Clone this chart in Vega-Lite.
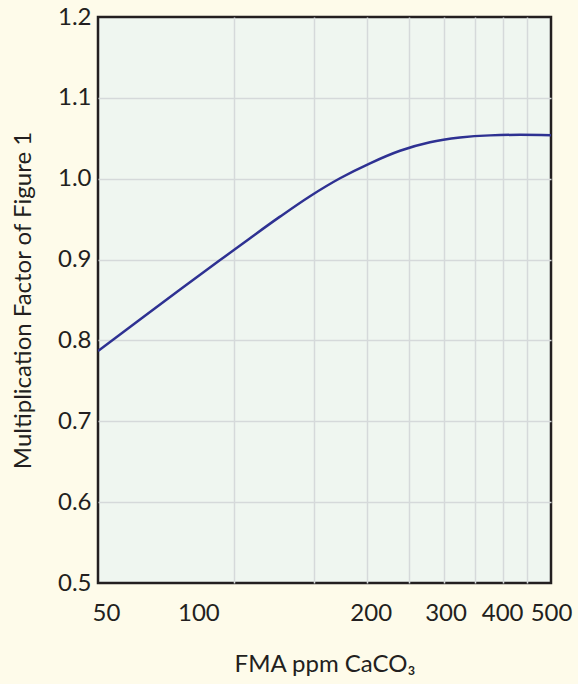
{
  "$schema": "https://vega.github.io/schema/vega-lite/v6.json",
  "width": 453,
  "height": 566,
  "autosize": {"type": "none"},
  "padding": {"left": 98, "top": 17, "right": 27, "bottom": 101},
  "background": "#fefbea",
  "view": {"fill": "#eff6f0", "stroke": "#231f20", "strokeWidth": 2.5},
  "data": {
    "values": [
      {"fma": 50, "factor": 0.787},
      {"fma": 61.9, "factor": 0.826},
      {"fma": 75.9, "factor": 0.863},
      {"fma": 93.0, "factor": 0.8994},
      {"fma": 108.3, "factor": 0.9265},
      {"fma": 126.1, "factor": 0.9531},
      {"fma": 146.9, "factor": 0.9784},
      {"fma": 171.1, "factor": 1.0006},
      {"fma": 199.3, "factor": 1.0191},
      {"fma": 232.1, "factor": 1.0346},
      {"fma": 270.3, "factor": 1.0451},
      {"fma": 314.8, "factor": 1.0509},
      {"fma": 366.7, "factor": 1.0536},
      {"fma": 427.1, "factor": 1.0543},
      {"fma": 500, "factor": 1.0537}
    ]
  },
  "mark": {"type": "line", "color": "#2e3192", "strokeWidth": 2.5, "interpolate": "monotone", "clip": true},
  "encoding": {
    "x": {
      "field": "fma",
      "type": "quantitative",
      "scale": {"type": "log", "domain": [50, 500], "nice": false},
      "axis": {
        "title": "FMA ppm CaCO₃",
        "values": [50, 100, 150, 196, 200, 243, 290, 300, 339, 392, 400, 443, 500],
        "labelExpr": "indexof([50,100,200,300,400,500], datum.value) >= 0 ? format(datum.value, 'd') : ''",
        "labelOverlap": false,
        "labelFlush": false,
        "labelFontSize": 24,
        "labelColor": "#231f20",
        "labelPadding": 18,
        "labelOffset": {
          "condition": [
            {"test": "datum.value == 50", "value": 8},
            {"test": "datum.value == 100", "value": -36},
            {"test": "datum.value == 300 || datum.value == 400", "value": -5}
          ],
          "value": 0
        },
        "ticks": false,
        "tickSize": 0,
        "domain": false,
        "grid": true,
        "gridColor": "#d5d9da",
        "gridWidth": 1.5,
        "gridOpacity": {
          "condition": {"test": "indexof([100,150,196,243,290,339,392,443], datum.value) >= 0", "value": 1},
          "value": 0
        },
        "titleFontSize": 24,
        "titleFontWeight": "normal",
        "titleColor": "#231f20",
        "titleBaseline": "alphabetic",
        "titleY": 88
      }
    },
    "y": {
      "field": "factor",
      "type": "quantitative",
      "scale": {"domain": [0.5, 1.2], "nice": false, "zero": false},
      "axis": {
        "title": "Multiplication Factor of Figure 1",
        "values": [0.5, 0.6, 0.7, 0.8, 0.9, 1.0, 1.1, 1.2],
        "format": ".1f",
        "labelFontSize": 24,
        "labelColor": "#231f20",
        "labelPadding": 7,
        "ticks": false,
        "tickSize": 0,
        "domain": false,
        "grid": true,
        "gridColor": "#d5d9da",
        "gridWidth": 1.5,
        "gridOpacity": {
          "condition": {"test": "datum.value < 0.55 || datum.value > 1.15", "value": 0},
          "value": 1
        },
        "titleFontSize": 24,
        "titleFontWeight": "normal",
        "titleColor": "#231f20",
        "titleBaseline": "alphabetic",
        "titleAngle": -90,
        "titleX": -67.5,
        "titleY": 283
      }
    }
  },
  "config": {"font": "Lato"}
}
